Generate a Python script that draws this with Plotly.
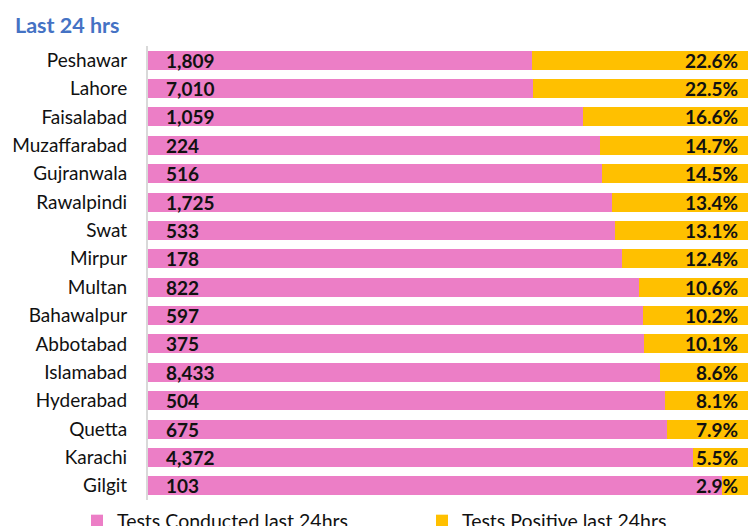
import plotly.graph_objects as go

cities = ["Peshawar", "Lahore", "Faisalabad", "Muzaffarabad", "Gujranwala", "Rawalpindi",
          "Swat", "Mirpur", "Multan", "Bahawalpur", "Abbotabad", "Islamabad",
          "Hyderabad", "Quetta", "Karachi", "Gilgit"]
tests = [1809, 7010, 1059, 224, 516, 1725, 533, 178, 822, 597, 375, 8433, 504, 675, 4372, 103]
positive_pct = [22.6, 22.5, 16.6, 14.7, 14.5, 13.4, 13.1, 12.4, 10.6, 10.2, 10.1, 8.6, 8.1, 7.9, 5.5, 2.9]
positives = [t * p / 100 for t, p in zip(tests, positive_pct)]

PINK = "#EC7EC6"
GOLD = "#FFC000"
FONT = "Lato"
XMIN, XMAX = 0.5, 1.0

# the page body adds an 8px margin, so the figure is sized to fill the rest of the window
OFF = 8
W, H = 756 - OFF, 526 - OFF
ML, MR, MT, MB = 148 - OFF, 0, 46 - OFF, 526 - 500
PH = H - MT - MB


def py(screen_y):
    """screen pixel y -> paper y"""
    return 1 - (screen_y - OFF - MT) / PH


fig = go.Figure()
fig.add_trace(go.Bar(y=cities, x=tests, orientation="h", name="Tests Conducted last 24hrs",
                     marker=dict(color=PINK, line=dict(width=0)), legend="legend"))
fig.add_trace(go.Bar(y=cities, x=positives, orientation="h", name="Tests Positive last 24hrs",
                     marker=dict(color=GOLD, line=dict(width=0)), legend="legend2"))

annotations = []
for c, t in zip(cities, tests):
    annotations.append(dict(x=XMIN, y=c, xref="x", yref="y", text=f"<b>{t:,}</b>", showarrow=False,
                            xanchor="left", xshift=16, font=dict(family=FONT, size=19, color="#111")))
for c, p in zip(cities, positive_pct):
    annotations.append(dict(x=XMAX, y=c, xref="x", yref="y", text=f"<b>{p:.1f}%</b>", showarrow=False,
                            xanchor="right", xshift=-16, font=dict(family=FONT, size=19, color="#111")))

leg_common = dict(orientation="h", xref="container", xanchor="left",
                  yref="paper", y=py(521), yanchor="middle",
                  font=dict(family=FONT, size=19.5, color="#111"), itemclick=False,
                  bgcolor="rgba(0,0,0,0)")

fig.update_layout(
    width=W, height=H,
    margin=dict(l=ML, r=MR, t=MT, b=MB, autoexpand=False),
    barmode="stack", barnorm="fraction", bargap=0.33,
    plot_bgcolor="white", paper_bgcolor="white",
    font=dict(family=FONT, size=18, color="#111"),
    title=dict(text="<b>Last 24 hrs</b>", xref="container", yref="container", x=(15 - OFF) / W,
               xanchor="left", y=1 - (25 - OFF) / H, yanchor="middle",
               font=dict(family=FONT, size=21.5, color="#4472C4")),
    xaxis=dict(range=[XMIN, XMAX], visible=False, showgrid=False, zeroline=False),
    yaxis=dict(autorange="reversed", showline=True, linecolor="#D9D9D9", linewidth=2,
               showgrid=False, ticks="", ticklabelstandoff=15,
               tickfont=dict(family=FONT, size=19, color="#111")),
    showlegend=True,
    legend=dict(x=69 / W, **leg_common),
    legend2=dict(x=414 / W, **leg_common),
    annotations=annotations,
)

fig.write_html("out.html")
